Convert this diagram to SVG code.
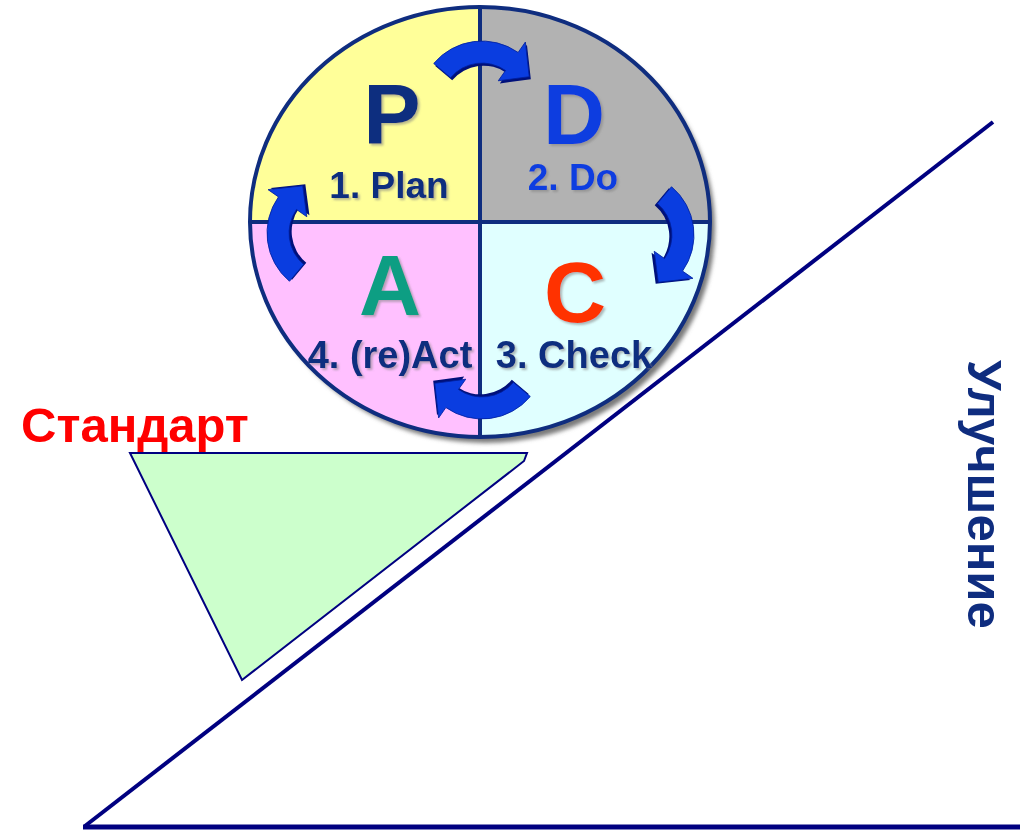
<svg xmlns="http://www.w3.org/2000/svg" xmlns:xlink="http://www.w3.org/1999/xlink" width="1028" height="831" viewBox="0 0 1028 831">
<style>
.t{font-family:"Liberation Sans",Arial,sans-serif;font-weight:bold;text-anchor:middle}
.big{font-size:86px}
.sm{font-size:37px}
.navy{fill:#0f2d7f}
.ln{stroke:#000080;fill:none;stroke-linecap:butt}
</style>
<defs>
<filter id="ts" x="-20%" y="-20%" width="140%" height="140%">
<feDropShadow dx="2" dy="2" stdDeviation="1.2" flood-color="#808080" flood-opacity="0.55"/>
</filter>
<filter id="cs" x="-10%" y="-10%" width="120%" height="120%">
<feGaussianBlur stdDeviation="2"/>
</filter>
<clipPath id="cc"><ellipse cx="480" cy="222" rx="230" ry="215"/></clipPath>
<path id="arw" d="M -46.0 -38.6 A 60 60 0 0 1 34.4 -49.1 L 41.3 -59.0 L 45.0 -26.0 L 15.5 -22.1 L 22.4 -31.9 A 39 39 0 0 0 -29.9 -25.1 Z"/>
</defs>

<g id="axes">
<line class="ln" x1="85" y1="826" x2="993" y2="122" stroke-width="4"/>
<line class="ln" x1="83" y1="827" x2="1020" y2="827" stroke-width="5"/>
</g>

<g id="standard">
<polygon points="130,453 527,453 524,461 242,680" fill="#ccffcc" stroke="#000080" stroke-width="2" stroke-linejoin="miter"/>
<text x="21" y="442" font-family="Liberation Sans, Arial, sans-serif" font-weight="bold" font-size="49" fill="#ff0000">Стандарт</text>
</g>

<g id="improvement">
<text transform="translate(968,360) rotate(90)" x="0" y="0" font-family="Liberation Sans, Arial, sans-serif" font-weight="bold" font-size="49" fill="#0f2d7f">Улучшение</text>
</g>

<g id="pdca">
<ellipse cx="485" cy="228" rx="230" ry="215" fill="#7a7a7a" filter="url(#cs)"/>
<g clip-path="url(#cc)">
<rect x="250" y="7" width="230" height="215" fill="#ffff99"/>
<rect x="480" y="7" width="230" height="215" fill="#b2b2b2"/>
<rect x="250" y="222" width="230" height="215" fill="#ffc0ff"/>
<rect x="480" y="222" width="230" height="215" fill="#e0ffff"/>
</g>
<line x1="480" y1="7" x2="480" y2="437" stroke="#0f2d7f" stroke-width="4"/>
<line x1="250" y1="222" x2="710" y2="222" stroke="#0f2d7f" stroke-width="4"/>
<ellipse cx="480" cy="222" rx="230" ry="215" fill="none" stroke="#0f2d7f" stroke-width="4"/>
</g>

<g id="labels" filter="url(#ts)">
<text class="t big navy" x="392" y="144">P</text>
<text class="t big" x="574" y="144" fill="#0a3de0">D</text>
<text class="t big" x="390" y="315" fill="#119e83">A</text>
<text class="t big" x="575" y="322" fill="#ff3300">C</text>
<text class="t sm navy" x="389" y="198">1. Plan</text>
<text class="t sm" x="573" y="190" fill="#0a3de0">2. Do</text>
<text class="t navy" x="390" y="368" font-size="38">4. (re)Act</text>
<text class="t navy" x="574" y="368" font-size="38">3. Check</text>
</g>

<g id="connectors">
<g transform="translate(482,104) scale(1.05)">
<use xlink:href="#arw" transform="translate(1.5,2.5)" fill="#00107a"/>
<use xlink:href="#arw" fill="#0a3de0" stroke="#0020a0" stroke-width="0.8"/>
</g>
<g transform="translate(631,235) rotate(90) scale(1.05)">
<use xlink:href="#arw" transform="translate(1.5,2.5)" fill="#00107a"/>
<use xlink:href="#arw" fill="#0a3de0" stroke="#0020a0" stroke-width="0.8"/>
</g>
<g transform="translate(482,356) rotate(180) scale(1.05)">
<use xlink:href="#arw" transform="translate(1.5,2.5)" fill="#00107a"/>
<use xlink:href="#arw" fill="#0a3de0" stroke="#0020a0" stroke-width="0.8"/>
</g>
<g transform="translate(330,233) rotate(-90) scale(1.05)">
<use xlink:href="#arw" transform="translate(1.5,2.5)" fill="#00107a"/>
<use xlink:href="#arw" fill="#0a3de0" stroke="#0020a0" stroke-width="0.8"/>
</g>
</g>
</svg>
